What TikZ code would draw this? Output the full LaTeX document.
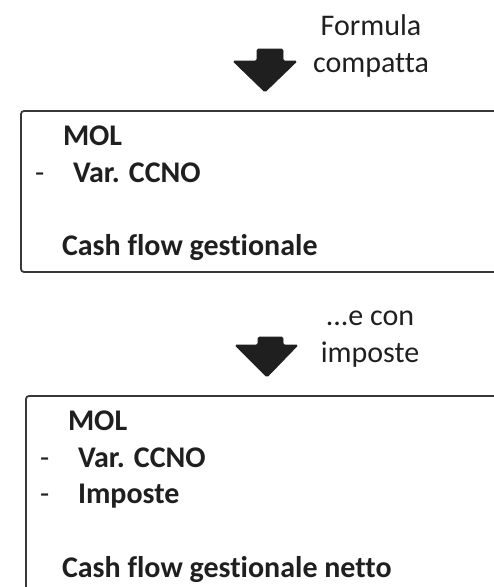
\documentclass[tikz,border=0pt]{standalone}
\usepackage{fontspec}
\setmainfont[Ligatures={NoCommon}]{Carlito}
\begin{document}
\begin{tikzpicture}[x=1pt,y=-1pt,
  every node/.style={inner sep=0pt,outer sep=0pt,anchor=base west,text=black!88},
  note/.style={font=\fontsize{30}{36}\selectfont},
  item/.style={font=\fontsize{30}{36}\bfseries\selectfont},
  dashmark/.style={font=\fontsize{30}{36}\selectfont},
  panel/.style={draw=black!78,line width=1.8pt,rounded corners=3pt},
  blockarrow/.style={fill=black!88,draw=black!88,line width=0.8pt,rounded corners=1.5pt}]
\useasboundingbox (0,0) rectangle (494,587);

% step 1: compact formula
\node[note,anchor=base] (f1) at (371,35) {Formula};
\node[note,anchor=base] (f2) at (371,72) {compatta};
\draw[blockarrow] (257,49) -- (283,49) -- (283,61) -- (297,61) -- (265,92)
  -- (233,61) -- (257,61) -- cycle;

\draw[panel] (21,111) rectangle (520,272);
\node[item] (a1) at (63,145) {MOL};
\node[dashmark] (m1) at (35,182) {-};
\node[item] (a2) at (73,182) {Var. CCNO};
\node[item] (a3) at (62,255) {Cash flow gestionale};

% step 2: including taxes
\node[note,anchor=base] (g1) at (370,325) {...e con};
\node[note,anchor=base] (g2) at (370,362) {imposte};
\draw[blockarrow] (258,337) -- (283,337) -- (283,345) -- (298,345) -- (267,377)
  -- (235,345) -- (258,345) -- cycle;

\draw[panel] (26,396) rectangle (520,640);
\node[item] (b1) at (68,430) {MOL};
\node[dashmark] (m2) at (40,467) {-};
\node[item] (b2) at (78,467) {Var. CCNO};
\node[dashmark] (m3) at (40,503) {-};
\node[item] (b3) at (78,503) {Imposte};
\node[item] (b4) at (62,577) {Cash flow gestionale netto};
\end{tikzpicture}
\end{document}
